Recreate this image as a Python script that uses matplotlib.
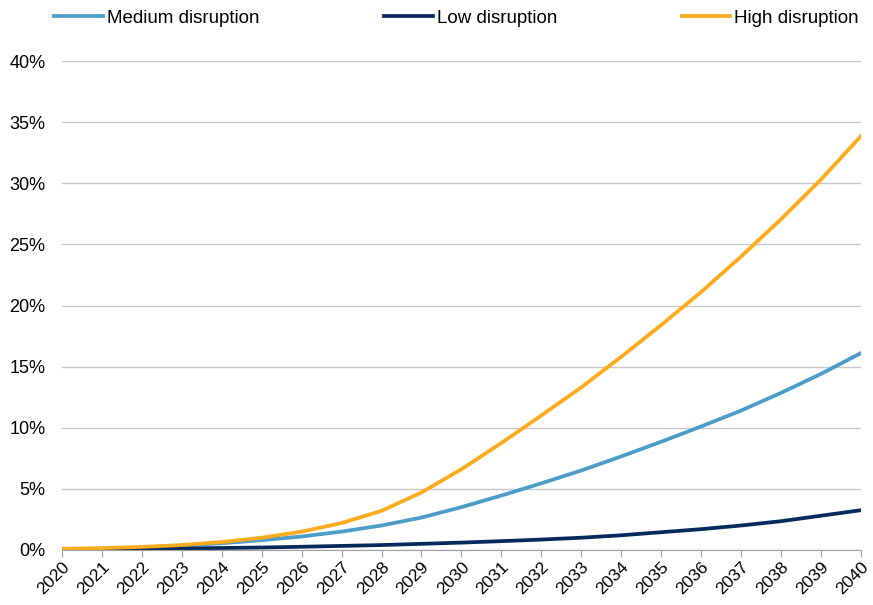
import matplotlib.pyplot as plt
import matplotlib.ticker as mticker

years = list(range(2020, 2041))
medium = [0.05, 0.1, 0.2, 0.35, 0.55, 0.8, 1.1, 1.5, 2.0, 2.65, 3.5, 4.45, 5.45,
          6.5, 7.65, 8.85, 10.1, 11.4, 12.85, 14.4, 16.1]
low = [0.02, 0.05, 0.08, 0.12, 0.16, 0.2, 0.26, 0.33, 0.4, 0.5, 0.6, 0.72, 0.85,
       1.0, 1.2, 1.45, 1.7, 2.0, 2.35, 2.8, 3.25]
high = [0.1, 0.15, 0.25, 0.4, 0.65, 1.0, 1.5, 2.2, 3.2, 4.7, 6.6, 8.75, 11.0,
        13.3, 15.8, 18.4, 21.1, 24.0, 27.05, 30.3, 33.85]

plt.rcParams['font.family'] = ['Liberation Sans', 'DejaVu Sans']

fig = plt.figure(figsize=(8.73, 6.05), dpi=100)
ax = fig.add_axes([0.071, 0.091, 0.915, 0.808])

ax.plot(years, medium, color='#4b9dc8', linewidth=2.7, label='Medium disruption')
ax.plot(years, low, color='#062a5b', linewidth=2.7, label='Low disruption')
ax.plot(years, high, color='#fcab1c', linewidth=2.7, label='High disruption')

ax.set_xlim(2020, 2040)
ax.set_ylim(0, 40)
ax.set_xticks(years)
ax.set_xticklabels([str(y) for y in years], rotation=45, ha='right',
                   rotation_mode='anchor', fontsize=12.5)
ax.yaxis.set_major_locator(mticker.MultipleLocator(5))
ax.yaxis.set_major_formatter(mticker.FuncFormatter(lambda v, p: f"{v:.0f}%"))
ax.tick_params(axis='y', length=0, labelsize=13, pad=12)
ax.tick_params(axis='x', length=5, color='#a0a0a0', pad=2)
ax.grid(axis='y', color='#c8c8c8', linewidth=1)
ax.set_axisbelow(True)
for s in ['top', 'right', 'left']:
    ax.spines[s].set_visible(False)
ax.spines['bottom'].set_color('#a0a0a0')

fig.legend(loc='upper left', bbox_to_anchor=(0.043, 1.012, 0.960, 0.0), ncol=3,
           mode='expand', frameon=False, fontsize=13.5, handlelength=2.6,
           handletextpad=0.2)

fig.savefig('out.png', dpi=100)
